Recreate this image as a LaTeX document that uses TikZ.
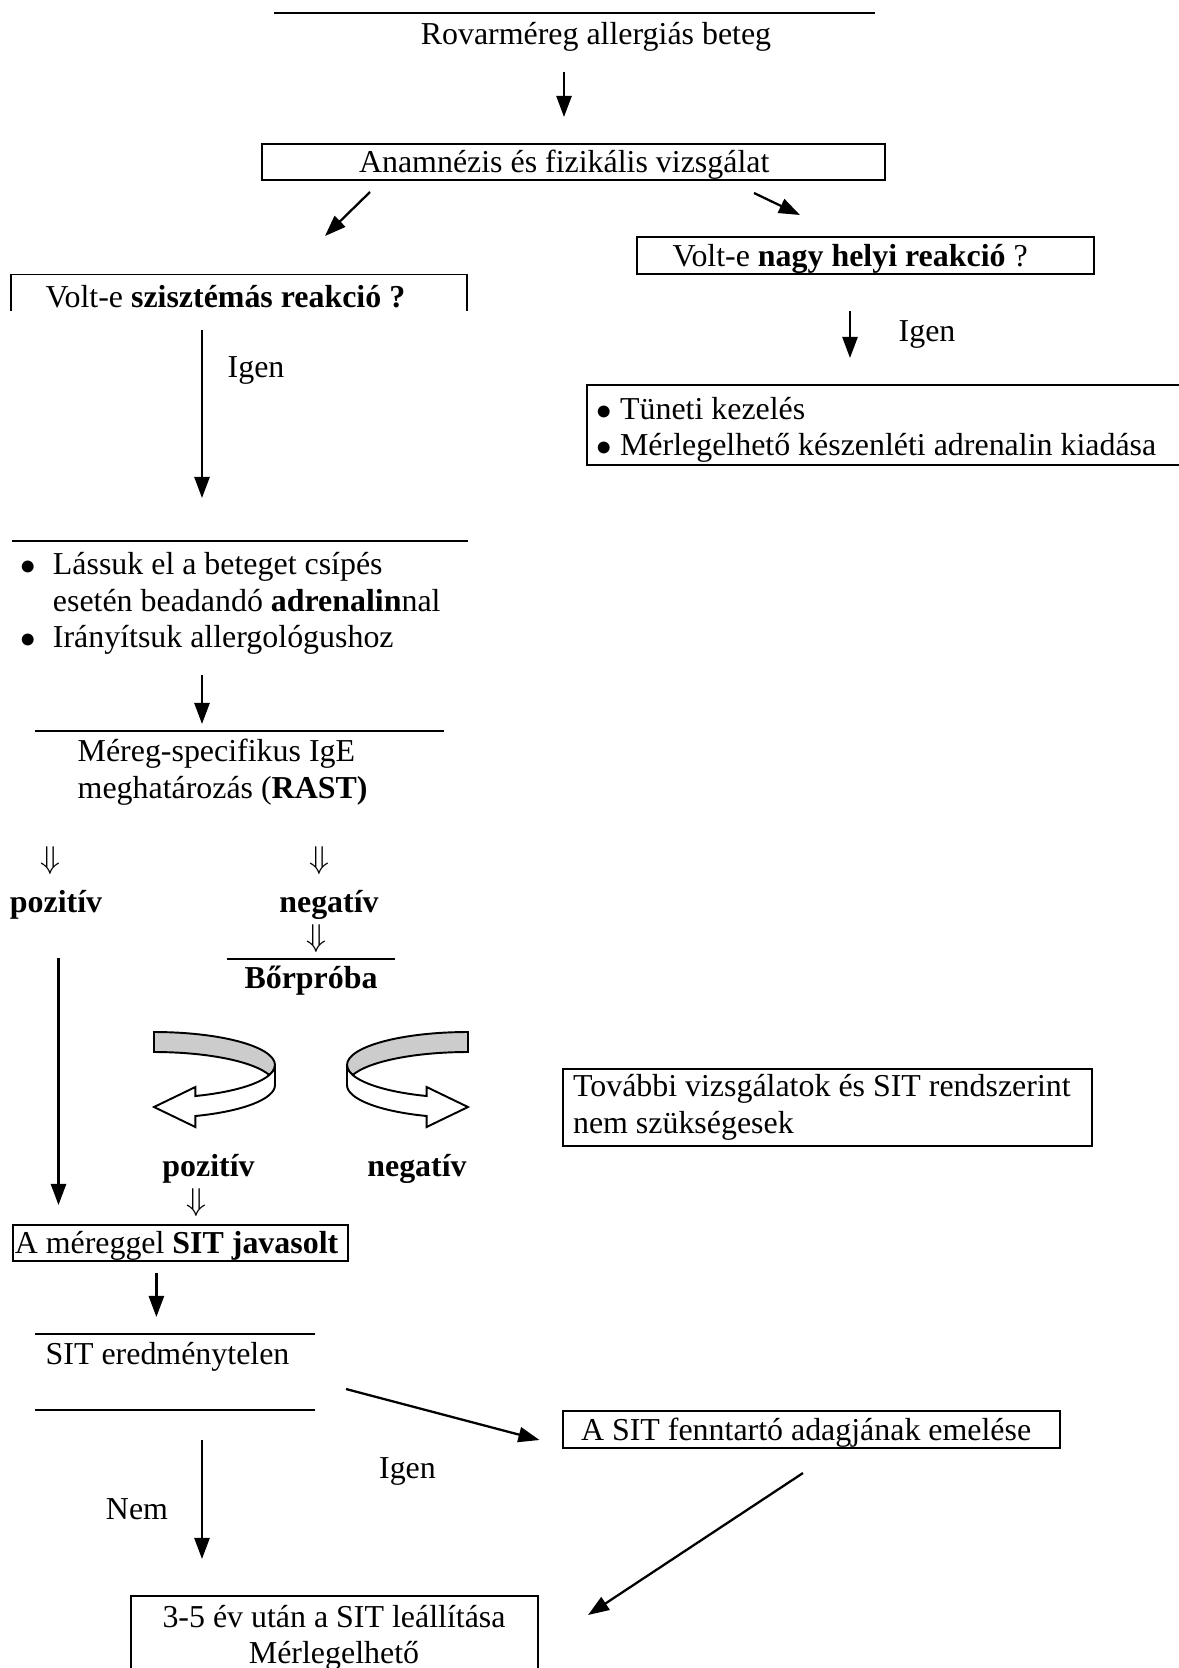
\documentclass[tikz,border=0pt]{standalone}
\usepackage{fontspec}
\usepackage{graphicx}
\setmainfont{Liberation Serif}
\usetikzlibrary{arrows.meta,positioning,calc}

\newcommand\dotmark{\scalebox{0.95}{$\bullet$}}

% twisted ribbon arrow (origin = centre of the upper edge ellipse)
\tikzset{
    ribbon/.pic={
        \filldraw[fill=gray!40, line width=0.55pt]
            (0,0.33) arc[start angle=90, end angle=-17.6, x radius=1.21, y radius=0.33]
            -- (1.1533,-0.1002) arc[start angle=17.6, end angle=90, x radius=1.21, y radius=0.33]
            -- cycle;
        \filldraw[fill=white, line width=0.55pt]
            (0.414,-0.31) arc[start angle=-70, end angle=0, x radius=1.21, y radius=0.33]
            -- (1.21,-0.2) arc[start angle=0, end angle=-70, x radius=1.21, y radius=0.33]
            -- (0.414,-0.62) -- (0,-0.42) -- (0.414,-0.22) -- cycle;
    }
}

\begin{document}
\begin{tikzpicture}[
    font=\fontsize{9.08}{10.4}\selectfont,
    box/.style={draw, line width=0.6pt, anchor=north west, align=left, inner ysep=0pt},
    onebox/.style={box, text height=0.78em, text depth=0.18em},
    txt/.style={inner sep=0pt, anchor=west, align=left},
    lbl/.style={txt, yshift=-0.028cm},
    mid/.style={inner sep=0pt, anchor=center, align=center, yshift=-0.028cm},
    arrow/.style={-{Triangle[length=6pt,width=4.3pt]}, line width=0.65pt},
    rule/.style={line width=0.55pt}
]
\useasboundingbox (0,0) rectangle (11.79,-16.68);

% Patient (top)
\draw[rule] (2.74,-0.128) -- (8.75,-0.128);
\node[mid] (patient) at (5.96,-0.34) {Rovarméreg allergiás beteg};

\coordinate (p1) at (5.64,-0.72);
\coordinate (p2) at (5.64,-1.17);
\draw[arrow] (p1) -- (p2);

% History and examination
\node[onebox, inner xsep=0.97cm, minimum height=0.36cm] (history) at (2.61,-1.43)
    {\makebox[4.29cm][l]{Anamnézis és fizikális vizsgálat}};

\coordinate (h1) at (3.70,-1.92);
\coordinate (h2) at (3.25,-2.36);
\coordinate (h3) at (7.54,-1.93);
\coordinate (h4) at (8.00,-2.15);
\draw[arrow] (h1) -- (h2);
\draw[arrow] (h3) -- (h4);

% Large local reaction (right branch)
\node[onebox, inner xsep=0.355cm, minimum height=0.37cm] (local) at (6.36,-2.36)
    {\makebox[3.86cm][l]{Volt-e \textbf{nagy helyi reakció} ?}};

\coordinate (l1) at (8.50,-3.11);
\coordinate (l2) at (8.50,-3.58);
\draw[arrow] (l1) -- (l2);
\node[lbl] (yesLocal) at (8.98,-3.32) {Igen};

\draw[rule] (11.79,-3.85) -| (5.87,-4.65) -- (11.79,-4.65);
\node[txt] (symptomatic) at (5.96,-4.30)
    {\dotmark\ Tüneti kezelés\\\dotmark\ Mérlegelhető készenléti adrenalin kiadása};

% Systemic reaction (left branch)
\draw[rule] (0.106,-3.11) |- (4.67,-2.745) -- (4.67,-3.11);
\node[lbl] (systemic) at (0.45,-2.94) {Volt-e \textbf{szisztémás reakció ?}};

\coordinate (s1) at (2.02,-3.30);
\coordinate (s2) at (2.02,-4.98);
\draw[arrow] (s1) -- (s2);
\node[lbl] (yesSystemic) at (2.27,-3.68) {Igen};

\draw[rule] (0.12,-5.406) -- (4.68,-5.406);
\node[txt] (adrenaline) at (0.20,-6.04) {%
    \begin{tabular}{@{}l@{\hspace{0.168cm}}l@{}}
    \dotmark & Lássuk el a beteget csípés\\
             & esetén beadandó \textbf{adrenalin}nal\\
    \dotmark & Irányítsuk allergológushoz
    \end{tabular}};

\coordinate (r1) at (2.02,-6.75);
\coordinate (r2) at (2.02,-7.24);
\draw[arrow] (r1) -- (r2);

% RAST
\draw[rule] (0.35,-7.31) -- (4.44,-7.31);
\node[txt] (rast) at (0.77,-7.72) {Méreg-specifikus IgE\\meghatározás (\textbf{RAST)}};

\node[mid] (dnPos) at (0.50,-8.58) {$\Downarrow$};
\node[mid] (dnNeg) at (3.19,-8.58) {$\Downarrow$};
\node[mid] (rastPos) at (0.56,-9.02) {\textbf{pozitív}};
\node[mid] (rastNeg) at (3.29,-9.02) {\textbf{negatív}};
\node[mid] (dnSkin) at (3.16,-9.36) {$\Downarrow$};

% Skin test
\draw[rule] (2.27,-9.59) -- (3.95,-9.59);
\node[mid] (skin) at (3.11,-9.78) {\textbf{Bőrpróba}};

\coordinate (k1) at (0.585,-9.58);
\coordinate (k2) at (0.585,-12.05);
\draw[arrow] (k1) -- (k2);

\pic at (1.54,-10.65) {ribbon};
\pic[xscale=-1] at (4.68,-10.65) {ribbon};

\node[mid] (skinPos) at (2.085,-11.66) {\textbf{pozitív}};
\node[mid] (skinNeg) at (4.17,-11.66) {\textbf{negatív}};
\node[mid] (dnSit) at (1.96,-12.00) {$\Downarrow$};

\node[box, inner xsep=0.10cm, minimum height=0.77cm] (further) at (5.62,-10.68)
    {\makebox[5.09cm][l]{További vizsgálatok és SIT rendszerint}\\nem szükségesek};

% SIT
\node[onebox, inner xsep=0.02cm, minimum height=0.36cm] (sit) at (0.117,-12.24)
    {\makebox[3.31cm][l]{A méreggel \textbf{SIT javasolt}}};

\coordinate (t1) at (1.564,-12.73);
\coordinate (t2) at (1.564,-13.17);
\draw[arrow] (t1) -- (t2);

\draw[rule] (0.35,-13.34) -- (3.15,-13.34);
\node[lbl] (fail) at (0.45,-13.545) {SIT eredménytelen};
\draw[rule] (0.35,-14.10) -- (3.15,-14.10);

\coordinate (f1) at (3.46,-13.89);
\coordinate (f2) at (5.395,-14.40);
\draw[arrow] (f1) -- (f2);
\node[mid] (yesFail) at (4.075,-14.685) {Igen};

\node[onebox, inner xsep=0.18cm, minimum height=0.37cm] (increase) at (5.62,-14.10)
    {\makebox[4.61cm][l]{A SIT fenntartó adagjának emelése}};

\coordinate (n1) at (2.02,-14.40);
\coordinate (n2) at (2.02,-15.59);
\draw[arrow] (n1) -- (n2);
\node[mid] (noFail) at (1.37,-15.06) {Nem};

\coordinate (i1) at (8.03,-14.73);
\coordinate (i2) at (5.88,-16.15);
\draw[arrow] (i1) -- (i2);

% Stop (bottom, open below)
\draw[rule] (1.31,-16.68) |- (5.38,-15.96) -- (5.38,-16.68);
\node[inner sep=0pt, align=center] (stop) at (3.34,-16.378) {3-5 év után a SIT leállítása\\Mérlegelhető};

\end{tikzpicture}
\end{document}
